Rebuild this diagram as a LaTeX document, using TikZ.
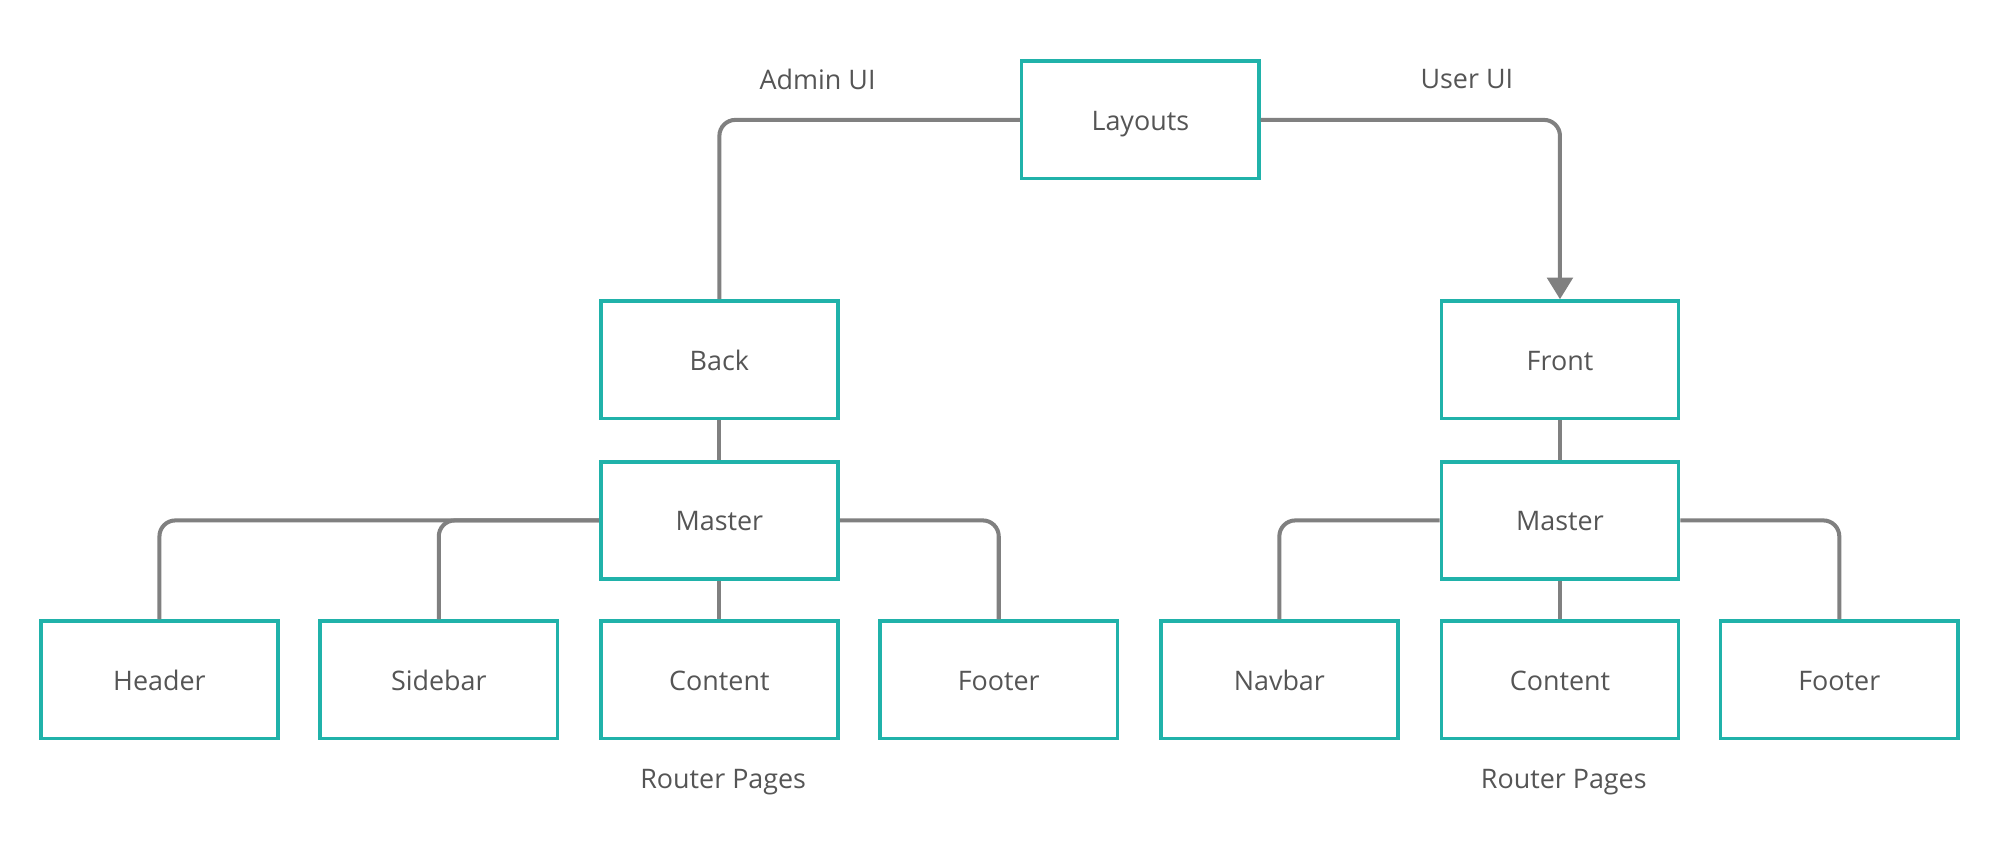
\documentclass[tikz,border=0pt]{standalone}
\usepackage{fontspec}
\setmainfont{Open Sans}
\usepackage{tikz}
\usetikzlibrary{arrows.meta}

\definecolor{teal}{RGB}{32,178,170}
\definecolor{wire}{RGB}{128,128,128}
\definecolor{ink}{RGB}{85,85,85}

\begin{document}
\begin{tikzpicture}
  \tikzset{block/.style = {shape=rectangle,draw=teal,line width=1.6pt,minimum width=3.72cm,minimum height=1.84cm,text=ink,text height=2ex,text depth=.25ex,font=\fontsize{12}{14}\selectfont}}
  \tikzset{link/.style = {draw=wire,line width=1.8pt,rounded corners=0.25cm}}
  \tikzset{tag/.style = {text=ink,font=\fontsize{12}{14}\selectfont}}

  \useasboundingbox (0,0) rectangle (31.36,-13.5);

	\node[block] (layouts) at (17.88,-1.88) {Layouts};
	\node[block] (back) at (11.28,-5.64) {Back};
	\node[block] (front) at (24.46,-5.64) {Front};

	\node[block] (masterA) at (11.28,-8.16) {Master};
	\node[block] (masterU) at (24.46,-8.16) {Master};

	\node[block] (header) at (2.5,-10.66) {Header};
	\node[block] (sidebar) at (6.88,-10.66) {Sidebar};
	\node[block] (contentA) at (11.28,-10.66) {Content};
	\node[block] (footerA) at (15.66,-10.66) {Footer};
	\node[block] (navbar) at (20.06,-10.66) {Navbar};
	\node[block] (contentU) at (24.46,-10.66) {Content};
	\node[block] (footerU) at (28.84,-10.66) {Footer};

	\node[tag] (admin) at (12.82,-1.24) {Admin UI};
	\node[tag] (user) at (23.0,-1.24) {User UI};
	\node[tag] (pagesA) at (11.34,-12.26) {Router Pages};
	\node[tag] (pagesU) at (24.52,-12.26) {Router Pages};

	\draw[link] (layouts.west) -| (back.north);
	\draw[link,-{Triangle[width=0.4cm,length=0.34cm]}] (layouts.east) -| (front.north);

       \foreach \from/\to in {back/masterA, front/masterU, masterA/contentA, masterU/contentU}
    \draw[link] (\from) -- (\to);
       \foreach \from/\to in {masterA.west/header, masterA.west/sidebar, masterA.east/footerA, masterU.west/navbar, masterU.east/footerU}
    \draw[link] (\from) -| (\to.north);
\end{tikzpicture}
\end{document}
